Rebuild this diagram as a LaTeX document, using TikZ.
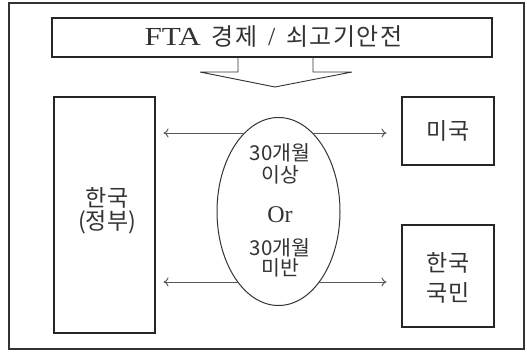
\documentclass[tikz,border=0pt]{standalone}
\usepackage{fontspec}
\setmainfont{Liberation Serif}
\newfontfamily\kr{Noto Sans CJK KR}
\newfontfamily\krs[LetterSpace=6]{Noto Sans CJK KR}
\usetikzlibrary{shapes.geometric,arrows.meta}
\begin{document}
\begin{tikzpicture}[x=1pt,y=-1pt,
  frame/.style={draw=black!80,line width=1.1pt},
  boxstyle/.style={draw=black!85,line width=1.1pt,inner sep=0pt},
  lbl/.style={inner sep=0pt,font=\kr\fontsize{23}{26}\selectfont,text=black!80},
  elbl/.style={inner sep=0pt,font=\kr\fontsize{20.5}{23}\selectfont,text=black!80},
  conn/.style={draw=black!65,line width=1pt,-{To[length=5pt,width=9pt]}}]
\useasboundingbox (0,0) rectangle (527,353);
\fill[white] (0,0) rectangle (527,353);
\draw[frame] (9,3) rectangle (524,349);
% top box
\node[boxstyle,minimum width=440pt,minimum height=39pt] (top) at (272,37.5) {};
\node[inner sep=0pt,text=black!80,font=\fontsize{26}{28}\selectfont] (toptxt) at (273.5,37) {\scalebox{1.2}[1]{FTA}\, {\krs\fontsize{24}{26}\selectfont 경제}\, /\, {\krs\fontsize{24}{26}\selectfont 쇠고기안전}};
% block arrow
\draw[frame,line width=0.9pt,line join=miter] (238,57) -- (238,72) -- (200,72) -- (275,87) -- (352,72) -- (313,72) -- (313,57);
% boxes
\node[boxstyle,minimum width=101pt,minimum height=236pt] (kor) at (104.5,215) {};
\node[boxstyle,minimum width=92pt,minimum height=68pt] (usa) at (448,131) {};
\node[boxstyle,minimum width=92pt,minimum height=102pt] (ppl) at (448,276) {};
\node[lbl] (kortxt1) at (107,198) {한국};
\node[lbl] (kortxt2) at (107,222) {(정부)};
\node[lbl] (usatxt) at (448,131) {미국};
\node[lbl] (ppltxt1) at (448,263) {한국};
\node[lbl] (ppltxt2) at (448,293) {국민};
% ellipse
\node[ellipse,draw=black!80,line width=1pt,minimum width=123pt,minimum height=188pt,inner sep=0pt] (el) at (278.5,211.5) {};
\node[elbl] (t1) at (280,153) {30개월};
\node[elbl] (t2) at (280,175) {이상};
\node[inner sep=0pt,text=black!80,font=\fontsize{24}{26}\selectfont] (t3) at (280,215) {Or};
\node[elbl] (t4) at (280,248) {30개월};
\node[elbl] (t5) at (280,268) {미반};
% arrows
\coordinate (a1) at (244.6,133);
\coordinate (a2) at (312.4,133);
\coordinate (b1) at (237.8,282);
\coordinate (b2) at (319.2,282);
\draw[conn] (a1) -- ([xshift=8pt]kor.east |- a1);
\draw[conn] (a2) -- ([xshift=-15pt]usa.west |- a2);
\draw[conn] (b1) -- ([xshift=8pt]kor.east |- b1);
\draw[conn] (b2) -- ([xshift=-15pt]ppl.west |- b2);
\end{tikzpicture}
\end{document}
